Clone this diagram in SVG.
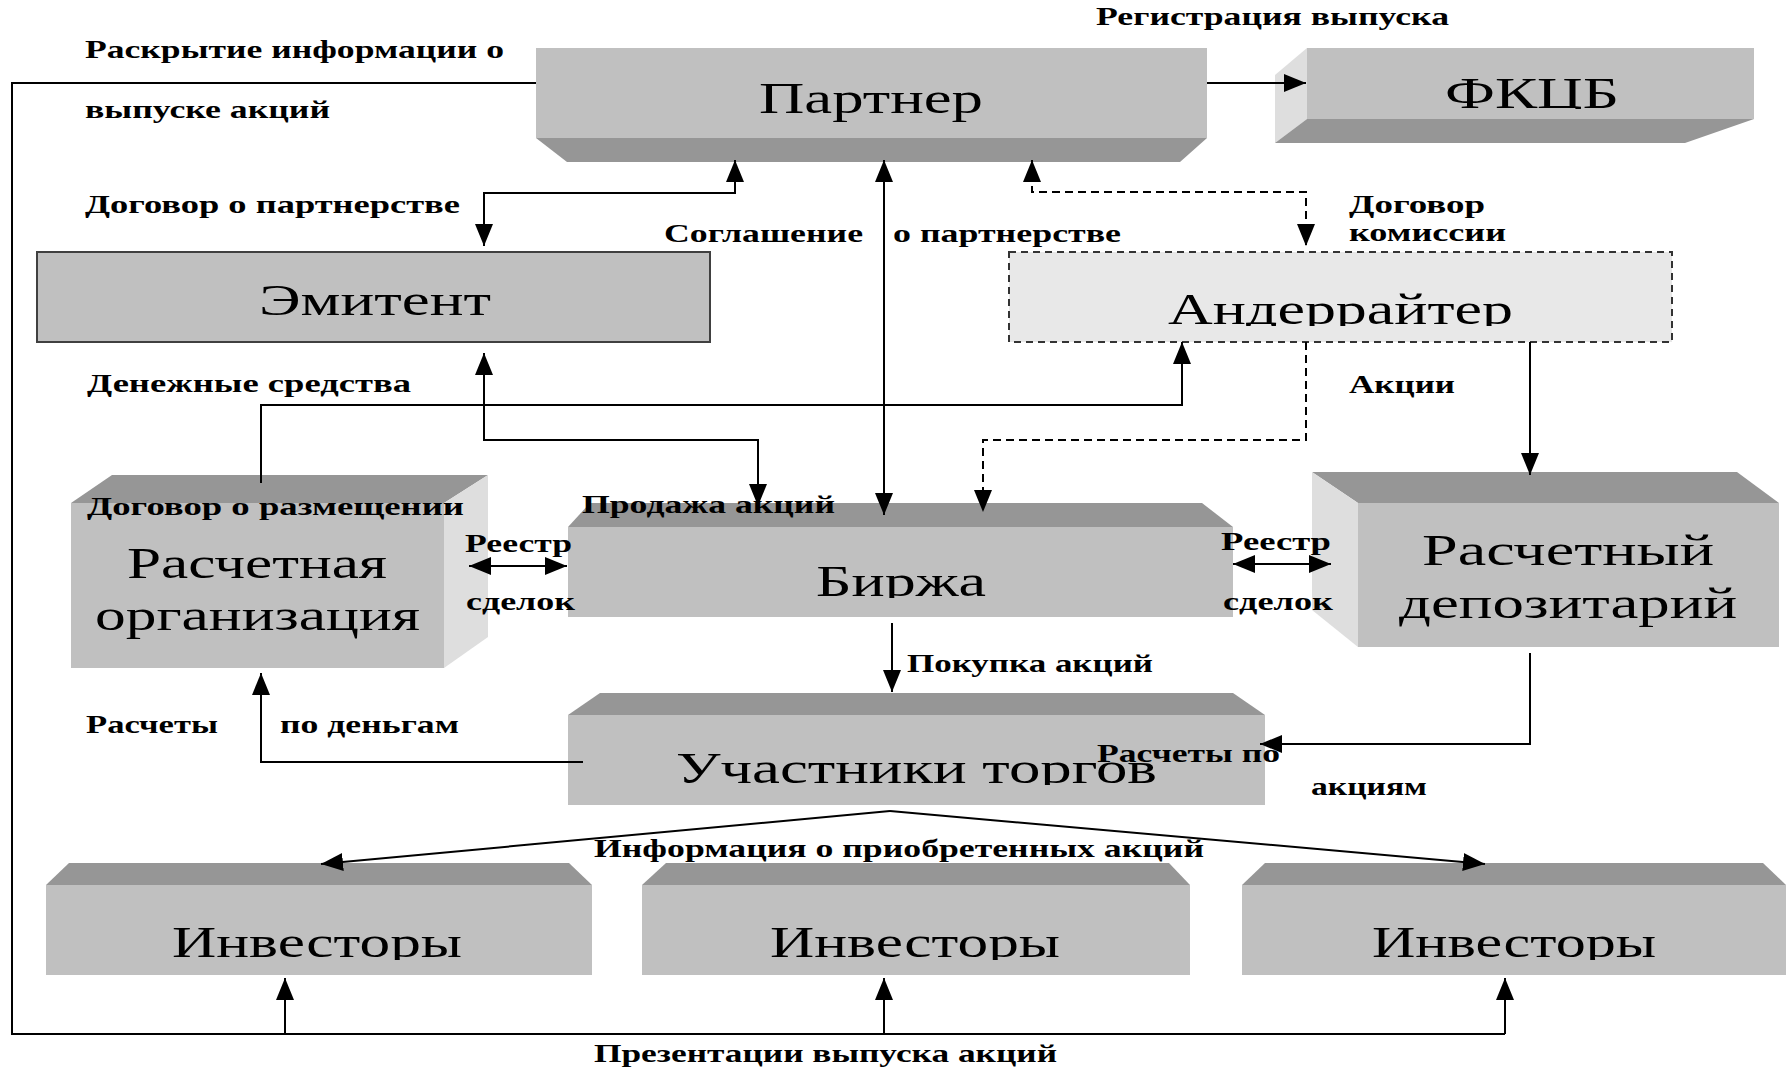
<svg xmlns="http://www.w3.org/2000/svg" width="1788" height="1068" viewBox="0 0 1788 1068">
<style>
.front{fill:#c0c0c0}
.dark{fill:#969696}
.light{fill:#dedede}
.lbl{font-family:"Liberation Serif","Times New Roman",serif;font-weight:bold;font-size:25px;fill:#000}
.nt{font-family:"Liberation Serif","Times New Roman",serif;font-size:44px;fill:#000}
.ln{fill:none;stroke:#000;stroke-width:2}
.dash{stroke-dasharray:8 5}
</style>
<defs>
<marker id="ah" viewBox="0 0 10 10" refX="10" refY="5" markerWidth="22" markerHeight="18" markerUnits="userSpaceOnUse" orient="auto-start-reverse" preserveAspectRatio="none"><path d="M0,0 L10,5 L0,10 z" fill="#000"/></marker>
<clipPath id="cUnd"><rect x="1010" y="253" width="660" height="73"/></clipPath>
<clipPath id="cBir"><rect x="569" y="528" width="660" height="70"/></clipPath>
<clipPath id="cUch"><rect x="569" y="716" width="695" height="69"/></clipPath>
<clipPath id="cInv"><rect x="0" y="886" width="1788" height="74"/></clipPath>
<clipPath id="cFk"><rect x="1308" y="49" width="440" height="60"/></clipPath>
</defs>
<rect width="1788" height="1068" fill="#fff"/>

<g id="partner">
<rect class="front" x="536" y="48" width="671" height="90"/>
<polygon class="dark" points="536,138 1207,138 1180,162 567,162"/>
<text class="nt" x="759" y="113" textLength="224" lengthAdjust="spacingAndGlyphs">Партнер</text>
</g>

<g id="fkcb">
<rect class="front" x="1307" y="48" width="447" height="71"/>
<polygon class="light" points="1307,48 1275,75 1275,143 1307,119"/>
<polygon class="dark" points="1307,119 1754,119 1685,143 1275,143"/>
<text class="nt" x="1445" y="108" textLength="174" lengthAdjust="spacingAndGlyphs" clip-path="url(#cFk)">ФКЦБ</text>
</g>

<g id="emitent">
<rect x="37" y="252" width="673" height="90" fill="#c0c0c0" stroke="#404040" stroke-width="2"/>
<text class="nt" x="259" y="315" textLength="232" lengthAdjust="spacingAndGlyphs">Эмитент</text>
</g>

<g id="underwriter">
<rect x="1009" y="252" width="663" height="90" fill="#e8e8e8" stroke="#333" stroke-width="2" stroke-dasharray="7 5"/>
<text class="nt" x="1168" y="324" textLength="345" lengthAdjust="spacingAndGlyphs" clip-path="url(#cUnd)">Андеррайтер</text>
</g>

<g id="settlement-org">
<polygon class="dark" points="71,503 444,503 488,475 112,475"/>
<polygon class="light" points="444,503 488,475 488,637 444,668"/>
<rect class="front" x="71" y="503" width="373" height="165"/>
<text class="nt" x="127" y="578" textLength="260" lengthAdjust="spacingAndGlyphs">Расчетная</text>
<text class="nt" x="95" y="630" textLength="325" lengthAdjust="spacingAndGlyphs">организация</text>
</g>

<g id="exchange">
<polygon class="dark" points="568,527 1233,527 1202,503 590,503"/>
<rect class="front" x="568" y="527" width="665" height="90"/>
<text class="nt" x="816" y="596" textLength="170" lengthAdjust="spacingAndGlyphs" clip-path="url(#cBir)">Биржа</text>
</g>

<g id="depository">
<polygon class="dark" points="1312,472 1737,472 1779,503 1358,503"/>
<polygon class="light" points="1312,472 1358,503 1358,647 1312,610"/>
<rect class="front" x="1358" y="503" width="421" height="144"/>
<text class="nt" x="1422" y="565" textLength="292" lengthAdjust="spacingAndGlyphs">Расчетный</text>
<text class="nt" x="1399" y="618" textLength="338" lengthAdjust="spacingAndGlyphs">депозитарий</text>
</g>

<g id="participants">
<polygon class="dark" points="568,715 1265,715 1233,693 600,693"/>
<rect class="front" x="568" y="715" width="697" height="90"/>
<text class="nt" x="676" y="783" textLength="481" lengthAdjust="spacingAndGlyphs" clip-path="url(#cUch)">Участники торгов</text>
</g>

<g id="investors-1">
<polygon class="dark" points="46,885 592,885 569,863 69,863"/>
<rect class="front" x="46" y="885" width="546" height="90"/>
<text class="nt" x="172" y="957" textLength="290" lengthAdjust="spacingAndGlyphs" clip-path="url(#cInv)">Инвесторы</text>
</g>
<g id="investors-2">
<polygon class="dark" points="642,885 1190,885 1169,863 666,863"/>
<rect class="front" x="642" y="885" width="548" height="90"/>
<text class="nt" x="770" y="957" textLength="290" lengthAdjust="spacingAndGlyphs" clip-path="url(#cInv)">Инвесторы</text>
</g>
<g id="investors-3">
<polygon class="dark" points="1242,885 1786,885 1763,863 1265,863"/>
<rect class="front" x="1242" y="885" width="544" height="90"/>
<text class="nt" x="1372" y="957" textLength="284" lengthAdjust="spacingAndGlyphs" clip-path="url(#cInv)">Инвесторы</text>
</g>

<g id="connectors">
<polyline class="ln" stroke="#333" points="536,83 12,83 12,1034 1505,1034"/>
<line class="ln" x1="285" y1="1034" x2="285" y2="978" marker-end="url(#ah)"/>
<line class="ln" x1="884" y1="1034" x2="884" y2="978" marker-end="url(#ah)"/>
<line class="ln" x1="1505" y1="1034" x2="1505" y2="978" marker-end="url(#ah)"/>
<line class="ln" x1="1207" y1="83" x2="1306" y2="83" marker-end="url(#ah)"/>
<polyline class="ln" points="735,160 735,193 484,193 484,246" marker-start="url(#ah)" marker-end="url(#ah)"/>
<line class="ln" x1="884" y1="160" x2="884" y2="515" marker-start="url(#ah)" marker-end="url(#ah)"/>
<polyline class="ln dash" points="1032,160 1032,192 1306,192 1306,246" marker-start="url(#ah)" marker-end="url(#ah)"/>
<polyline class="ln" points="484,353 484,440 758,440 758,506" marker-start="url(#ah)" marker-end="url(#ah)"/>
<polyline class="ln" points="261,483 261,405 1182,405 1182,342" marker-end="url(#ah)"/>
<polyline class="ln dash" points="1306,342 1306,440 983,440 983,512" marker-end="url(#ah)"/>
<line class="ln" x1="1530" y1="342" x2="1530" y2="475" marker-end="url(#ah)"/>
<line class="ln" x1="469" y1="566" x2="567" y2="566" marker-start="url(#ah)" marker-end="url(#ah)"/>
<line class="ln" x1="1233" y1="564" x2="1331" y2="564" marker-start="url(#ah)" marker-end="url(#ah)"/>
<line class="ln" x1="892" y1="623" x2="892" y2="692" marker-end="url(#ah)"/>
<polyline class="ln" points="583,762 261,762 261,673" marker-end="url(#ah)"/>
<polyline class="ln" points="1530,653 1530,744 1260,744" marker-end="url(#ah)"/>
<line class="ln" x1="890" y1="811" x2="321" y2="864" marker-end="url(#ah)"/>
<line class="ln" x1="890" y1="811" x2="1485" y2="864" marker-end="url(#ah)"/>
</g>

<g id="labels">
<text class="lbl" x="1096" y="25" textLength="353" lengthAdjust="spacingAndGlyphs">Регистрация выпуска</text>
<text class="lbl" x="85" y="58" textLength="419" lengthAdjust="spacingAndGlyphs">Раскрытие информации о</text>
<text class="lbl" x="85" y="118" textLength="245" lengthAdjust="spacingAndGlyphs">выпуске акций</text>
<text class="lbl" x="85" y="213" textLength="375" lengthAdjust="spacingAndGlyphs">Договор о партнерстве</text>
<text class="lbl" x="664" y="242" textLength="199" lengthAdjust="spacingAndGlyphs">Соглашение</text>
<text class="lbl" x="893" y="242" textLength="228" lengthAdjust="spacingAndGlyphs">о партнерстве</text>
<text class="lbl" x="1349" y="213" textLength="136" lengthAdjust="spacingAndGlyphs">Договор</text>
<text class="lbl" x="1349" y="241" textLength="157" lengthAdjust="spacingAndGlyphs">комиссии</text>
<text class="lbl" x="87" y="392" textLength="324" lengthAdjust="spacingAndGlyphs">Денежные средства</text>
<text class="lbl" x="1349" y="393" textLength="106" lengthAdjust="spacingAndGlyphs">Акции</text>
<text class="lbl" x="87" y="515" textLength="377" lengthAdjust="spacingAndGlyphs">Договор о размещении</text>
<text class="lbl" x="582" y="513" textLength="253" lengthAdjust="spacingAndGlyphs">Продажа акций</text>
<text class="lbl" x="465" y="552" textLength="107" lengthAdjust="spacingAndGlyphs">Реестр</text>
<text class="lbl" x="466" y="610" textLength="109" lengthAdjust="spacingAndGlyphs">сделок</text>
<text class="lbl" x="1221" y="550" textLength="110" lengthAdjust="spacingAndGlyphs">Реестр</text>
<text class="lbl" x="1223" y="610" textLength="110" lengthAdjust="spacingAndGlyphs">сделок</text>
<text class="lbl" x="907" y="672" textLength="246" lengthAdjust="spacingAndGlyphs">Покупка акций</text>
<text class="lbl" x="86" y="733" textLength="132" lengthAdjust="spacingAndGlyphs">Расчеты</text>
<text class="lbl" x="280" y="733" textLength="179" lengthAdjust="spacingAndGlyphs">по деньгам</text>
<text class="lbl" x="1097" y="762" textLength="183" lengthAdjust="spacingAndGlyphs">Расчеты по</text>
<text class="lbl" x="1311" y="795" textLength="116" lengthAdjust="spacingAndGlyphs">акциям</text>
<text class="lbl" x="594" y="857" textLength="610" lengthAdjust="spacingAndGlyphs">Информация о приобретенных акций</text>
<text class="lbl" x="594" y="1062" textLength="463" lengthAdjust="spacingAndGlyphs">Презентации выпуска акций</text>
</g>
</svg>
